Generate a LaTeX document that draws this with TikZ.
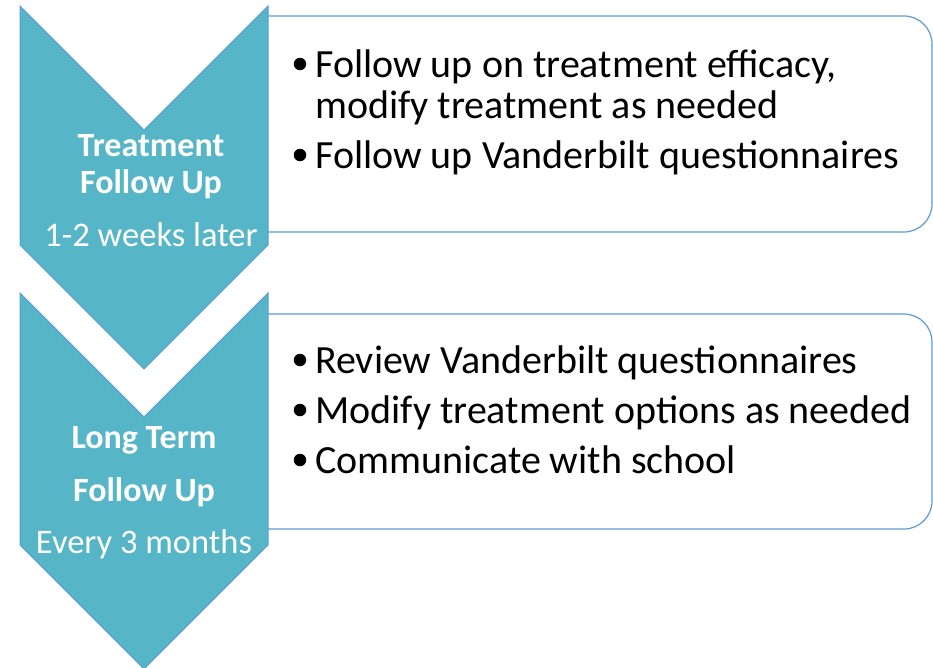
\documentclass[tikz,border=0pt]{standalone}
\usepackage{fontspec}
\setmainfont{Carlito}
\usetikzlibrary{positioning}
\definecolor{chevfill}{HTML}{56B5C7}
\definecolor{edgeblue}{HTML}{5B9BD5}
\tikzset{
        chevron/.style={fill=chevfill, draw=edgeblue, line width=1pt}, % teal step arrows
        step box/.style={draw=edgeblue, line width=1.2pt, fill=white, rounded corners=28pt}, % boxes with the bullet points
        head/.style={text=white, font=\fontsize{34}{36}\selectfont\bfseries, anchor=base, inner sep=0pt},
        when/.style={text=white, font=\fontsize{34.5}{36}\selectfont, anchor=base, inner sep=0pt},
        item/.style={font=\fontsize{40}{44}\selectfont, anchor=base west, inner sep=0pt},
        dot/.style={circle, fill=black, inner sep=0pt, minimum size=12.5pt},
    }
\newcommand{\chev}[2]{% top y and side length of a chevron
  (20,#1) -- (144,#1+124) -- (268,#1) -- (268,#1+#2) -- (144,#1+#2+124) -- (20,#1+#2) -- cycle}
\newcommand{\rbox}[2]{% top and bottom y of a box
  (268,#1) -- (932,#1) -- (932,#2) -- (268,#2)}

\begin{document}
\begin{tikzpicture}[x=1pt, y=-1pt]
    \useasboundingbox (0,0) rectangle (933,667);
    % first step
    \draw [step box] \rbox{16}{232};
    \draw [chevron] \chev{6}{239};
    \node [head] (t1) at (151,156) {Treatment};
    \node [head] (t2) at (151,193) {Follow Up};
    \node [when] (t3) at (151,246) {1-2 weeks later};
    \node [dot] (d1) at (300,64) {};
    \node [item] (a1) at (315,77) {Follow up on treatment efficacy,};
    \node [item] (a2) at (315,118) {modify treatment as needed};
    \node [dot] (d2) at (300,155) {};
    \node [item] (a3) at (315,168) {Follow up Vanderbilt questionnaires};
    % second step
    \draw [step box] \rbox{314}{529};
    \draw [chevron] \chev{293}{252};
    \node [head] (l1) at (144,448) {Long Term};
    \node [head] (l2) at (144,501) {Follow Up};
    \node [when] (l3) at (144,553) {Every 3 months};
    \node [dot] (e1) at (300,360) {};
    \node [item] (b1) at (315,373) {Review Vanderbilt questionnaires};
    \node [dot] (e2) at (300,410) {};
    \node [item] (b2) at (315,423) {Modify treatment options as needed};
    \node [dot] (e3) at (300,460) {};
    \node [item] (b3) at (315,473) {Communicate with school};
\end{tikzpicture}
\end{document}
